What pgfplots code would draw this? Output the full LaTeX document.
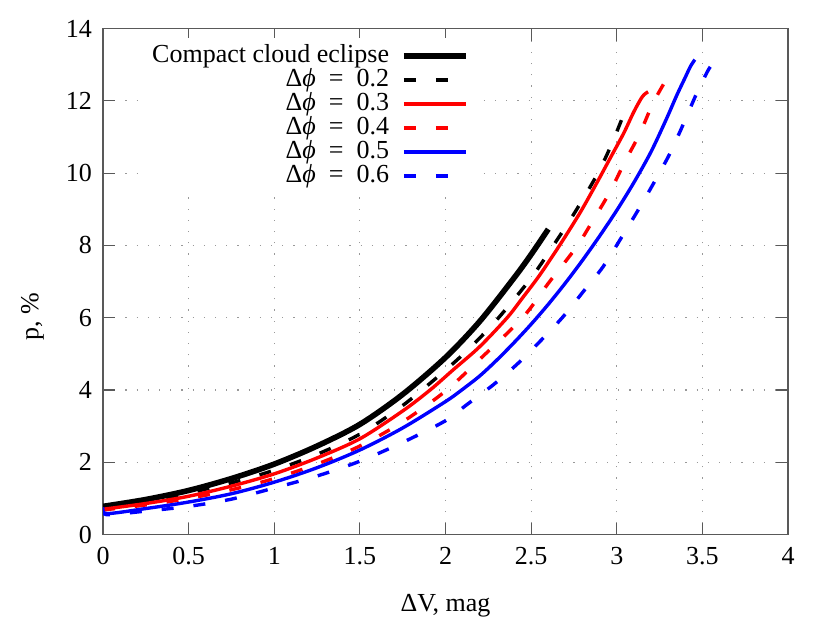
\documentclass[border=0pt]{standalone}
\usepackage{fontspec}
\setmainfont{Liberation Serif}
\usepackage{pgfplots}
\pgfplotsset{compat=1.18}
\newcommand{\eq}{\hspace{0.5em}=\hspace{0.5em}}
\begin{document}
\begin{tikzpicture}[font=\fontsize{13}{15}\selectfont]
\begin{axis}[
  scale only axis, width=342.5pt, height=253pt,
  xmin=0, xmax=4, ymin=0, ymax=14,
  xtick={0,0.5,1,1.5,2,2.5,3,3.5,4},
  ytick={0,2,4,6,8,10,12,14},
  /pgf/number format/assume math mode=true,
  tick align=inside, major tick length=6pt,
  axis line style={black!65, line width=0.6pt},
  every tick/.style={black!65, line width=0.6pt},
  xticklabel style={yshift=-3pt},
  yticklabel style={xshift=-2pt},
  grid=major,
  major grid style={gray!80, line width=0.6pt, dash pattern=on 0.6pt off 5pt},
  xlabel={ΔV, mag}, ylabel={p, \%},
  xlabel style={at={(axis description cs:0.5,-0.14)}, anchor=center},
  ylabel style={at={(axis description cs:-0.103,0.43)}, anchor=center},
  legend style={at={(axis description cs:0.544,0.982)}, anchor=north east,
    draw=none, fill=white, inner sep=3pt, /tikz/column sep=5.5pt, row sep=0pt,
    nodes={inner sep=0.5pt, text height=8.5pt, text depth=2.5pt}},
  legend cell align=right,
  legend plot pos=right,
  legend image code/.code={\draw[#1] (0cm,0cm) -- (1.1cm,0cm);},
  clip mode=individual,
]
\path (rel axis cs:-0.1504,-0.1739) rectangle (rel axis cs:1.0613,1.0565);
% Compact cloud eclipse
\addplot[black, line width=2.8pt, smooth] coordinates {
(0,0.78) (0.25,0.97) (0.5,1.22) (0.75,1.55) (1,1.95) (1.25,2.45) (1.5,3.05)
(1.75,3.88) (2,4.9) (2.2,5.9) (2.4,7.1) (2.5,7.75) (2.6,8.45)};
\addlegendentry{Compact cloud eclipse}
% dphi = 0.2
\addplot[black, line width=1.7pt, dash pattern=on 6pt off 10pt, smooth] coordinates {
(0,0.75) (0.25,0.92) (0.5,1.15) (0.75,1.43) (1,1.78) (1.25,2.22) (1.5,2.78)
(1.75,3.57) (2,4.55) (2.15,5.2) (2.31,6) (2.5,7.1) (2.63,8) (2.76,8.95) (2.89,10)
(2.97,10.8) (3.03,11.5)};
\addlegendentry{Δ\textit{ϕ}\eq0.2}
% dphi = 0.3
\addplot[red, line width=1.7pt, smooth] coordinates {
(0,0.70) (0.25,0.86) (0.5,1.06) (0.75,1.34) (1,1.68) (1.25,2.12) (1.5,2.65)
(1.75,3.42) (1.91,4) (2.05,4.58) (2.2,5.2) (2.36,6) (2.45,6.55) (2.55,7.18)
(2.67,8.03) (2.785,8.9) (2.88,9.7) (2.96,10.4) (3.04,11.1) (3.1,11.7)
(3.15,12.12) (3.183,12.25)};
\addlegendentry{Δ\textit{ϕ}\eq0.3}
% dphi = 0.4
\addplot[red, line width=1.7pt, dash pattern=on 6pt off 10pt, smooth] coordinates {
(0,0.68) (0.25,0.82) (0.5,1.0) (0.75,1.24) (1,1.55) (1.25,1.95) (1.5,2.45)
(1.75,3.12) (2,3.97) (2.2,4.85) (2.45,6) (2.6,6.95) (2.765,7.96) (2.862,8.7)
(2.96,9.48) (3.047,10.31) (3.135,11.1) (3.21,11.92) (3.29,12.6) (3.32,12.83)};
\addlegendentry{Δ\textit{ϕ}\eq0.4}
% dphi = 0.5
\addplot[blue, line width=1.7pt, smooth] coordinates {
(0,0.76) (0.02,0.58) (0.25,0.72) (0.5,0.9) (0.75,1.13) (1,1.45) (1.25,1.85)
(1.5,2.34) (1.75,2.95) (2,3.68) (2.1,4.02) (2.2,4.39) (2.3,4.83) (2.4,5.31)
(2.5,5.82) (2.6,6.37) (2.7,6.96) (2.8,7.59) (2.9,8.26) (3.0,8.97) (3.1,9.74)
(3.2,10.59) (3.29,11.5) (3.35,12.15) (3.4,12.65) (3.43,12.95) (3.456,13.14)};
\addlegendentry{Δ\textit{ϕ}\eq0.5}
% dphi = 0.6
\addplot[blue, line width=1.7pt, dash pattern=on 6pt off 10pt, smooth] coordinates {
(0,0.72) (0.02,0.55) (0.25,0.65) (0.5,0.78) (0.75,0.98) (1,1.29) (1.25,1.62)
(1.5,2.03) (1.75,2.55) (2,3.15) (2.123,3.59) (2.278,4.14) (2.424,4.74)
(2.561,5.39) (2.687,6.03) (2.804,6.72) (2.92,7.41) (3.03,8.24) (3.125,8.98)
(3.22,9.76) (3.31,10.54) (3.39,11.37) (3.466,12.2) (3.534,12.85) (3.573,13.12)};
\addlegendentry{Δ\textit{ϕ}\eq0.6}
\end{axis}
\end{tikzpicture}
\end{document}
